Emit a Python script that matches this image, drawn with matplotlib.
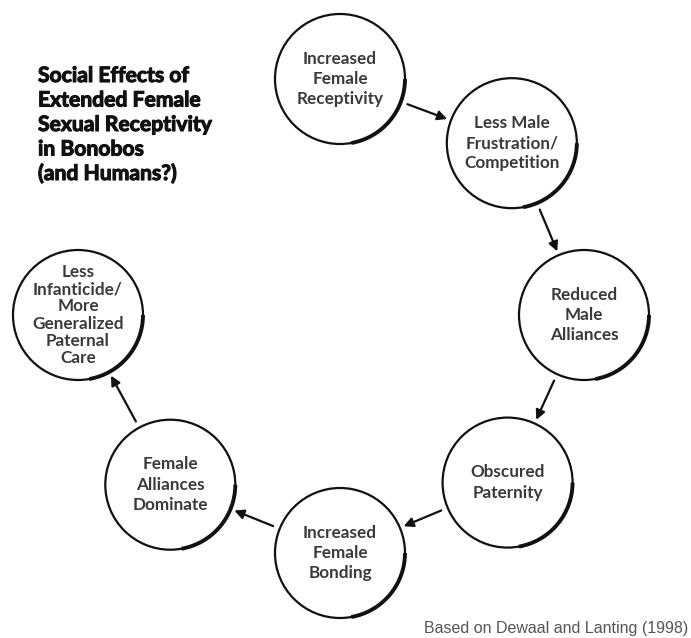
import numpy as np
import matplotlib
matplotlib.use("Agg")
from matplotlib import pyplot as plt
from matplotlib import patheffects
from matplotlib.patches import Circle, Arc, FancyArrowPatch

TITLE_LINES = ["Social Effects of", "Extended Female", "Sexual Receptivity",
               "in Bonobos", "(and Humans?)"]

NODE_LABELS = [
    "Increased\nFemale\nReceptivity",
    "Less Male\nFrustration/\nCompetition",
    "Reduced\nMale\nAlliances",
    "Obscured\nPaternity",
    "Increased\nFemale\nBonding",
    "Female\nAlliances\nDominate",
    "Less\nInfanticide/\nMore\nGeneralized\nPaternal\nCare",
]

# position of each node on the ring: angle (deg, clockwise from top) and distance
RING_ANGLES = [0, 45, 90, 135, 180, 225, 270]
RING_DIST = [236, 243, 244, 237, 238, 240, 262]

SOURCE = "Based on Dewaal and Lanting (1998)"

W, H = 691, 638
RING_CENTER = (340, 315)
NODE_R = 65

fig = plt.figure(figsize=(W / 100, H / 100), dpi=100)
ax = fig.add_axes([0, 0, 1, 1])
ax.set_xlim(0, W)
ax.set_ylim(H, 0)
ax.set_aspect("equal")
ax.axis("off")

centers = []
for a, d in zip(RING_ANGLES, RING_DIST):
    t = np.radians(a)
    centers.append((RING_CENTER[0] + d * np.sin(t), RING_CENTER[1] - d * np.cos(t)))

for (cx, cy), label in zip(centers, NODE_LABELS):
    ax.add_patch(Circle((cx, cy), NODE_R, fill=False, lw=1.6, ec="#111111"))
    # heavier stroke on lower right, like the printed original
    ax.add_patch(Arc((cx, cy), 2 * NODE_R, 2 * NODE_R, theta1=0, theta2=80,
                     lw=2.8, color="#111111"))
    nlines = label.count("\n") + 1
    ax.text(cx, cy, label, ha="center", va="center", fontsize=12.3,
            family="Lato", weight="bold", color="#3a3a3a",
            linespacing=1.1 if nlines > 4 else 1.33)

# arrows between consecutive nodes (none closing the loop)
for i in range(len(centers) - 1):
    p1, p2 = np.array(centers[i]), np.array(centers[i + 1])
    u = (p2 - p1) / np.linalg.norm(p2 - p1)
    start = p1 + u * (NODE_R + 7)
    end = p2 - u * (NODE_R + 4)
    ax.add_patch(FancyArrowPatch(start, end, arrowstyle="-|>", mutation_scale=14,
                                 lw=1.6, color="#111111", shrinkA=0, shrinkB=0))

heavy = [patheffects.withStroke(linewidth=0.8, foreground="#111111")]
for k, line in enumerate(TITLE_LINES):
    ax.text(38, 76 + k * 24.5, line, ha="left", va="center", fontsize=15.2,
            family="Lato", weight="bold", color="#111111", path_effects=heavy)

ax.text(688, 628, SOURCE, ha="right", va="center", fontsize=11.5,
        family=["Liberation Sans Narrow", "Liberation Sans"], color="#555555")

fig.savefig("out.png", dpi=100)
